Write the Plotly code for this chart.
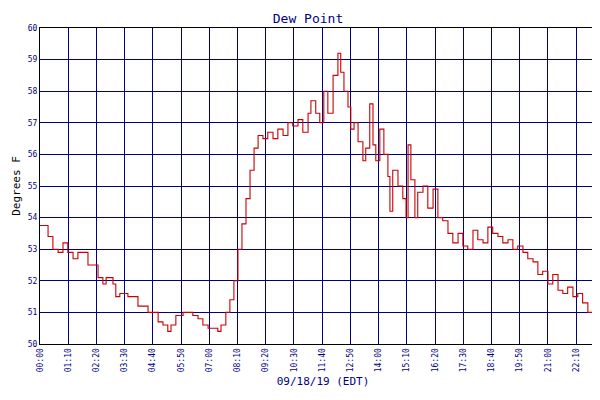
import plotly.graph_objects as go

minutes = [0,20,32,45,57,69,82,94,119,144,156,164,181,188,198,218,243,268,293,305,317,325,337,355,379,392,404,417,441,449,461,471,481,491,501,511,521,531,541,553,565,578,590,603,615,627,640,652,665,672,684,694,704,714,727,739,746,754,764,771,779,789,801,808,818,826,833,843,853,863,868,875,888,900,908,913,920,930,937,950,962,975,987,999,1012,1024,1037,1049,1061,1074,1086,1099,1111,1123,1136,1148,1161,1173,1185,1198,1210,1223,1235,1247,1260,1272,1285,1297,1309,1322,1334,1346,1359,1371,1384,1394,1401,1404]
dew = [53.75,53.4,53.0,52.9,53.2,52.9,52.7,52.9,52.5,52.1,51.9,52.1,51.9,51.5,51.6,51.5,51.2,51.0,50.7,50.6,50.4,50.6,50.9,51.0,50.9,50.8,50.6,50.5,50.4,50.6,51.0,51.4,52.0,53.0,53.8,54.6,55.5,56.2,56.6,56.5,56.7,56.5,56.8,56.6,57.0,56.9,57.1,56.7,57.3,57.7,57.3,57.0,58.0,57.3,58.5,59.2,58.6,58.0,57.5,56.8,57.0,56.4,55.8,56.2,57.6,56.3,55.8,56.8,56.0,55.3,54.2,55.5,55.0,54.6,54.0,56.3,55.2,54.0,54.8,55.0,54.3,54.9,54.0,53.9,53.5,53.2,53.5,53.1,53.0,53.6,53.3,53.2,53.7,53.5,53.4,53.2,53.3,53.0,53.1,52.9,52.7,52.6,52.2,52.3,51.9,52.2,51.7,51.6,51.8,51.5,51.6,51.3,51.0,50.9,50.7,50.5,50.3,50.5]
tick_minutes = list(range(0, 1401, 70)) + [1404]
tick_labels = [f"{m//60:02d}:{m%60:02d}" for m in tick_minutes]

navy = "#000080"
fig = go.Figure(go.Scatter(x=minutes, y=dew, mode="lines", name="Dew Point",
                           line=dict(color="#cc0000", width=1.1, shape="hv")))
fig.update_layout(
    width=600, height=400, paper_bgcolor="white", plot_bgcolor="white",
    margin=dict(l=32, r=2, t=20, b=64, autoexpand=False),
    font=dict(family="DejaVu Sans Mono", color=navy, size=9),
    title=dict(text="Dew Point", x=0.5, y=0.985, yanchor="top", font=dict(size=13, color=navy)),
    showlegend=True,
    legend=dict(orientation="h", x=0.5, xanchor="center", y=-0.24, yanchor="top", font=dict(size=8)),
)
fig.update_xaxes(range=[0, 1404], tickvals=tick_minutes, ticktext=tick_labels, tickangle=-90,
                 automargin=False,
                 showgrid=True, gridcolor=navy, gridwidth=1, showline=True, linecolor="black",
                 mirror=True, ticks="", tickfont=dict(size=8, color=navy),
                 title=dict(text="09/18/19 (EDT)", font=dict(size=11, color=navy), standoff=6))
fig.update_yaxes(range=[50, 60], dtick=1, showgrid=True, gridcolor=navy, gridwidth=1,
                 automargin=False,
                 showline=True, linecolor="black", mirror=True, ticks="",
                 tickfont=dict(size=8, color=navy),
                 title=dict(text="Degrees F", font=dict(size=11, color="black"), standoff=4))
fig.write_html("out.html")
